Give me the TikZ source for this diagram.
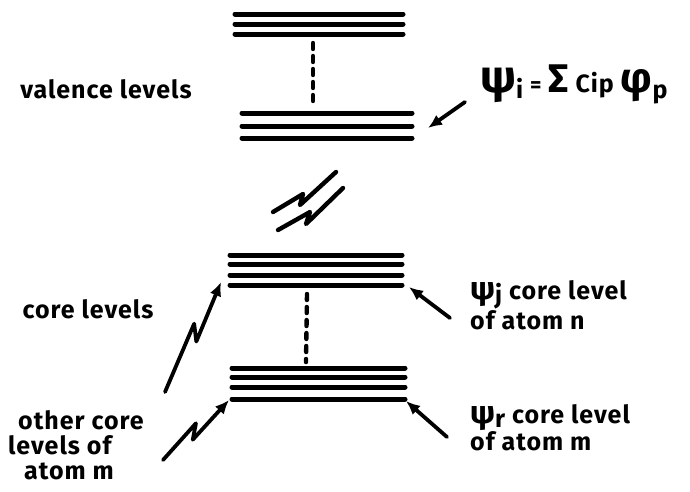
\documentclass[tikz,border=0pt]{standalone}
\usepackage{fontspec}
\setmainfont{Fira Sans}[LetterSpace=4]
\usetikzlibrary{arrows.meta,calc}
\tikzset{
    level/.style={line width=5pt, line cap=round},
    gapline/.style={line width=4.4pt, line cap=round, dash pattern=on 6pt off 7pt},
    pointer/.style={line width=3.8pt, line cap=round, line join=round,
        -{Latex[length=14pt,width=12pt]}},
    textlabel/.style={font=\fontsize{25}{26}\selectfont\bfseries, align=left, inner sep=0pt},
}
\newcommand{\bigsym}[2]{{\fontsize{#1}{#1}\selectfont #2}}

\begin{document}
\begin{tikzpicture}[x=1pt, y=-1pt]
    \useasboundingbox (0,0) rectangle (690,491);
    % valence levels
    \foreach \y in {14,24,34} \draw[level] (235,\y) -- (403,\y);
    \foreach \y in {113,126,138} \draw[level] (242,\y) -- (412,\y);
    \draw[gapline] (313,43) -- (313,104);
    % break in the energy axis
    \draw[level, line width=4.4pt, line join=round] (273,212) -- (303,194) -- (300,205) -- (336,172);
    \draw[level, line width=4.4pt, line join=round] (278,230) -- (310,212) -- (306,224) -- (343,188);
    % core levels
    \foreach \y in {255,264,275,285} \draw[level] (230,\y) -- (402,\y);
    \foreach \y in {368,377,387,399} \draw[level] (232,\y) -- (405,\y);
    \draw[gapline] (307,294) -- (306,362);
    % labels
    \node[textlabel, anchor=center] (valence) at (106,89) {valence levels};
    \node[textlabel, anchor=west] (psii) at (480,84)
        {\bigsym{46}{ψ}\raisebox{-6pt}{i}\;\bigsym{22}{=}\;\bigsym{40}{Σ}\;Cip\;\bigsym{42}{φ}\raisebox{-6pt}{p}};
    \node[textlabel, anchor=west] (psij) at (470,305)
        {\bigsym{32}{ψ}\raisebox{-4pt}{j} core level\\of atom n};
    \node[textlabel, anchor=center] (core) at (88,309) {core levels};
    \node[textlabel, anchor=west] (psir) at (470,428)
        {\bigsym{32}{ψ}\raisebox{-4pt}{r} core level\\of atom m};
    \node[textlabel, anchor=west, font=\fontsize{25}{25}\selectfont\bfseries] (other) at (8,445)
        {\hspace*{10pt}other core\\levels of\\\hspace*{16pt}atom m};
    % arrow ends
    \coordinate (valtail) at (465,102);
    \coordinate (valhead) at (428,128);
    \coordinate (coretail) at (165,392);
    \coordinate (corehead) at (221,282);
    \coordinate (othertail) at (163,460);
    \coordinate (otherhead) at (229,400);
    \coordinate (jtail) at (450,318);
    \coordinate (jhead) at (409,287);
    \coordinate (rtail) at (447,437);
    \coordinate (rhead) at (406,401);
    % pointers
    \draw[pointer] (valtail) -- (valhead);
    \draw[pointer] (jtail) -- (jhead);
    \draw[pointer] (rtail) -- (rhead);
    \draw[pointer] (coretail) -- ($(coretail)!0.6!(corehead)!5pt!90:(corehead)$)
        -- ($(coretail)!0.48!(corehead)!5pt!-90:(corehead)$) -- (corehead);
    \draw[pointer] (othertail) -- ($(othertail)!0.55!(otherhead)!5pt!90:(otherhead)$)
        -- ($(othertail)!0.4!(otherhead)!5pt!-90:(otherhead)$) -- (otherhead);
\end{tikzpicture}
\end{document}
